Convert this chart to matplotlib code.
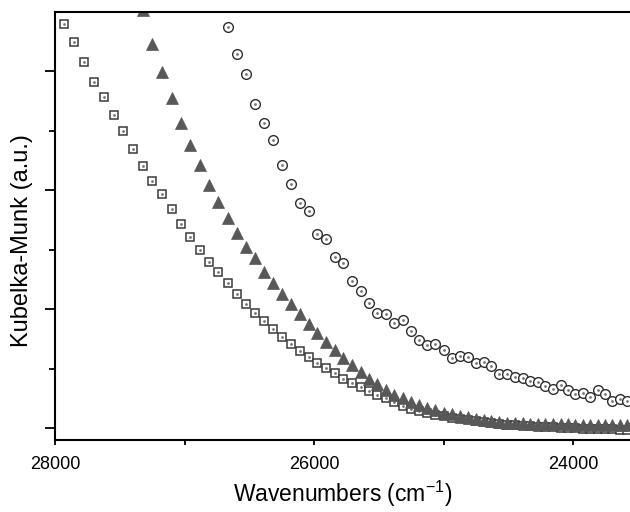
import numpy as np
import matplotlib.pyplot as plt

plt.rcParams['font.family'] = ['Liberation Sans', 'DejaVu Sans']

# Wavenumber grid (cm-1), shared by all three spectra
wavenumbers = np.array([
    27933, 27855, 27778, 27701, 27624, 27548, 27473, 27397, 27322, 27248,
    27174, 27100, 27027, 26954, 26882, 26810, 26738, 26667, 26596, 26525,
    26455, 26385, 26316, 26247, 26178, 26110, 26042, 25974, 25907, 25840,
    25773, 25707, 25641, 25575, 25510, 25445, 25381, 25316, 25253, 25189,
    25126, 25063, 25000, 24938, 24876, 24814, 24752, 24691, 24631, 24570,
    24510, 24450, 24390, 24331, 24272, 24213, 24155, 24096, 24038, 23981,
    23923, 23866, 23810, 23753, 23697, 23641, 23585,
])

# open squares (whole grid)
km_squares = np.array([
    3.395, 3.244, 3.076, 2.908, 2.782, 2.630, 2.496, 2.345, 2.202, 2.076,
    1.966, 1.840, 1.714, 1.605, 1.496, 1.395, 1.311, 1.218, 1.126, 1.042,
    0.966, 0.899, 0.832, 0.765, 0.706, 0.647, 0.597, 0.546, 0.504, 0.462,
    0.412, 0.378, 0.345, 0.311, 0.277, 0.252, 0.218, 0.185, 0.160, 0.143,
    0.126, 0.109, 0.101, 0.084, 0.076, 0.067, 0.059, 0.050, 0.042, 0.034,
    0.029, 0.025, 0.021, 0.017, 0.013, 0.008, 0.008, 0.004, 0.000, 0.000,
    -0.004, -0.004, -0.008, -0.008, -0.008, -0.013, -0.013,
])

# filled triangles (from grid index 8)
km_triangles = np.array([
    3.513, 3.235, 2.992, 2.773, 2.563, 2.378, 2.210, 2.042, 1.899, 1.765,
    1.639, 1.521, 1.429, 1.311, 1.218, 1.126, 1.042, 0.958, 0.874, 0.798,
    0.723, 0.655, 0.588, 0.529, 0.471, 0.412, 0.370, 0.319, 0.277, 0.252,
    0.218, 0.193, 0.168, 0.151, 0.126, 0.118, 0.101, 0.092, 0.076, 0.067,
    0.059, 0.050, 0.046, 0.042, 0.042, 0.038, 0.038, 0.034, 0.034, 0.034,
    0.034, 0.029, 0.029, 0.029, 0.029, 0.025, 0.025, 0.025, 0.025,
])

# open circles (from grid index 17)
km_circles = np.array([
    3.370, 3.143, 2.975, 2.723, 2.563, 2.420, 2.210, 2.050, 1.891, 1.824,
    1.630, 1.588, 1.437, 1.387, 1.235, 1.151, 1.050, 0.966, 0.958, 0.882,
    0.908, 0.815, 0.739, 0.697, 0.706, 0.655, 0.588, 0.605, 0.597, 0.546,
    0.555, 0.521, 0.454, 0.454, 0.429, 0.420, 0.395, 0.387, 0.353, 0.328,
    0.361, 0.319, 0.286, 0.294, 0.261, 0.319, 0.286, 0.227, 0.244, 0.227,
])

x_sq = wavenumbers
x_tri = wavenumbers[len(wavenumbers) - len(km_triangles):]
x_circ = wavenumbers[len(wavenumbers) - len(km_circles):]

fig = plt.figure(figsize=(6.3, 5.12), dpi=100)
ax = fig.add_axes([55 / 630, 1 - 440 / 512, 575 / 630, 428 / 512])

# squares
ax.plot(x_sq, km_squares, linestyle="none", marker="s", markersize=6,
        markerfacecolor="white", markeredgecolor="#3a3a3a", markeredgewidth=1.1)
ax.plot(x_sq, km_squares, linestyle="none", marker="o", markersize=1,
        color="#777777")

# triangles
ax.plot(x_tri, km_triangles, linestyle="none", marker="^", markersize=8,
        markerfacecolor="#585858", markeredgecolor="#585858", markeredgewidth=0.5)

# circles
ax.plot(x_circ, km_circles, linestyle="none", marker="o", markersize=7,
        markerfacecolor="white", markeredgecolor="#2e2e2e", markeredgewidth=1.0)
ax.plot(x_circ, km_circles, linestyle="none", marker="o", markersize=1,
        color="#777777")

ax.set_xlim(28000, 23560)
ax.set_ylim(-0.1, 3.5)

ax.set_xticks([28000, 26000, 24000])
ax.set_xticks([27000, 25000], minor=True)
ax.set_yticks([0, 1, 2, 3])
ax.set_yticks([0.5, 1.5, 2.5], minor=True)
ax.set_yticklabels([])

for side in ["left", "bottom", "top"]:
    ax.spines[side].set_linewidth(1.5)
ax.spines["right"].set_visible(False)

ax.tick_params(axis="x", which="both", direction="out", length=3.5, width=1.3,
               labelsize=13, pad=8)
ax.tick_params(axis="y", which="major", direction="out", length=7.5, width=1.3)
ax.tick_params(axis="y", which="minor", direction="out", length=4.5, width=1.3)

ax.set_xlabel("Wavenumbers (cm$^{\\mathregular{-1}}$)", fontsize=16.5, labelpad=4)
ax.set_ylabel("Kubelka-Munk (a.u.)", fontsize=17)
ax.yaxis.set_label_coords(-0.038, 0.465)

fig.savefig("out.png", dpi=100)
